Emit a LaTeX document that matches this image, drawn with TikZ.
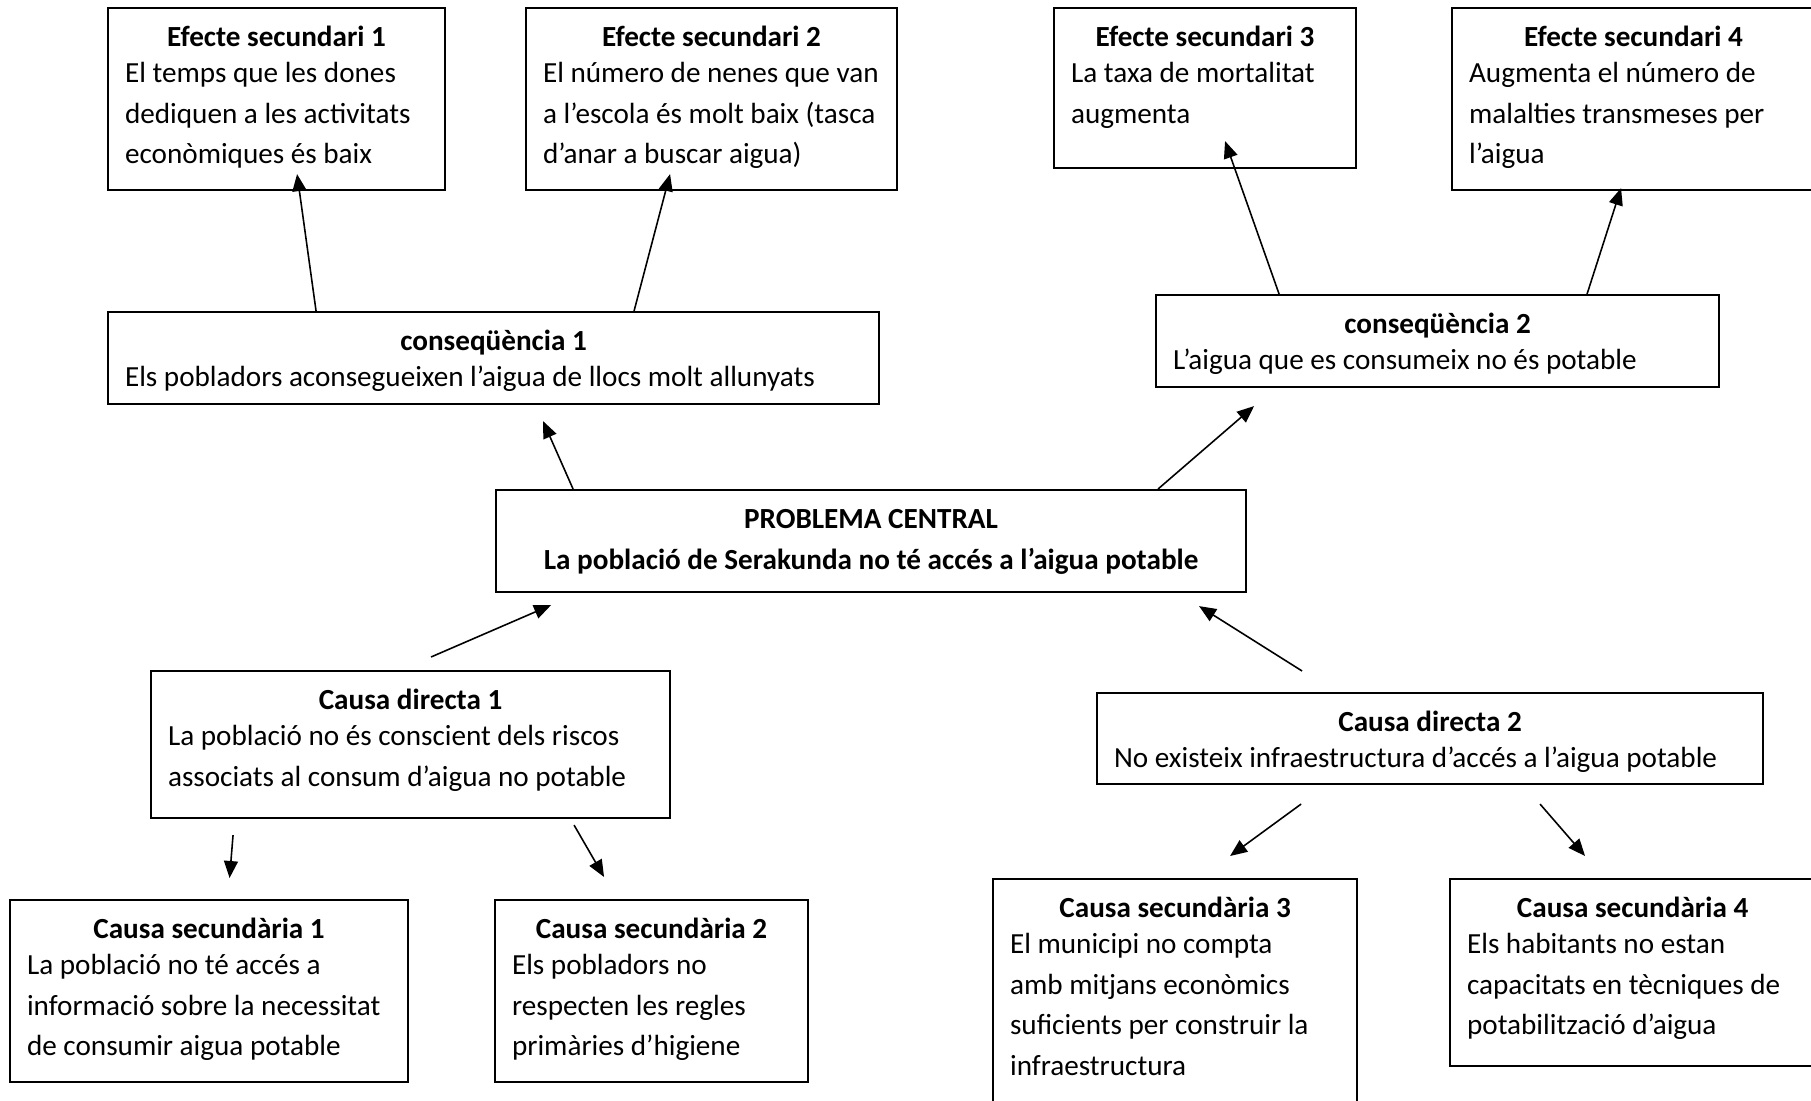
\documentclass[tikz,border=0pt]{standalone}
\usepackage{fontspec}
\setmainfont{Carlito}
\usetikzlibrary{arrows.meta}
\newcommand{\titol}[1]{{\centering\bfseries #1\par}\vspace{-0.047cm}}

\begin{document}
\begin{tikzpicture}[
    caixa/.style={draw, line width=0.6pt, anchor=north west, inner xsep=0.17cm, inner ysep=0pt,
      text height=0.385cm, align=flush left, font=\fontsize{8.3pt}{11.58pt}\selectfont},
    fletxa/.style={-{Triangle[length=0.17cm,width=0.14cm]}, line width=0.45pt}]
      \useasboundingbox (0,0) rectangle (18.11,11);
      % Efectes secundaris
      \node[caixa, text width=3.03cm, text depth=1.435cm] (e1) at (1.07,10.93) {\titol{Efecte secundari 1}El temps que les dones\\dediquen a les activitats\\econòmiques és baix};
      \node[caixa, text width=3.37cm, text depth=1.435cm] (e2) at (5.25,10.93) {\titol{Efecte secundari 2}El número de nenes que van\\a l’escola és molt baix (tasca\\d’anar a buscar aigua)};
      \node[caixa, text width=2.68cm, text depth=1.215cm] (e3) at (10.53,10.93) {\titol{Efecte secundari 3}La taxa de mortalitat\\augmenta};
      \node[caixa, text width=3.29cm, text depth=1.435cm] (e4) at (14.51,10.93) {\titol{Efecte secundari 4}Augmenta el número de\\malalties transmeses per\\l’aigua};
      % Conseqüències
      \node[caixa, text width=7.37cm, text depth=0.535cm] (c1) at (1.07,7.89) {\titol{conseqüència 1}Els pobladors aconsegueixen l’aigua de llocs molt allunyats};
      \node[caixa, text width=5.29cm, text depth=0.535cm] (c2) at (11.55,8.06) {\titol{conseqüència 2}L’aigua que es consumeix no és potable};
      % Problema central
      \node[caixa, align=flush center, text width=7.16cm, text depth=0.635cm] (pc) at (4.95,6.11) {\bfseries PROBLEMA CENTRAL\\La població de Serakunda no té accés a l’aigua potable};
      % Causes directes
      \node[caixa, text width=4.85cm, text depth=1.085cm] (cd1) at (1.50,4.30) {\titol{Causa directa 1}La població no és conscient dels riscos\\associats al consum d’aigua no potable};
      \node[caixa, text width=6.32cm, text depth=0.525cm] (cd2) at (10.96,4.08) {\titol{Causa directa 2}No existeix infraestructura d’accés a l’aigua potable};
      % Causes secundàries
      \node[caixa, text width=3.64cm, text depth=1.435cm] (cs1) at (0.09,2.01) {\titol{Causa secundària 1}La població no té accés a\\informació sobre la necessitat\\de consumir aigua potable};
      \node[caixa, text width=2.79cm, text depth=1.435cm] (cs2) at (4.94,2.01) {\titol{Causa secundària 2}Els pobladors no\\respecten les regles\\primàries d’higiene};
      \node[caixa, text width=3.30cm, text depth=2.035cm] (cs3) at (9.92,2.22) {\titol{Causa secundària 3}El municipi no compta\\amb mitjans econòmics\\suficients per construir la\\infraestructura};
      \node[caixa, text width=3.31cm, text depth=1.485cm] (cs4) at (14.49,2.22) {\titol{Causa secundària 4}Els habitants no estan\\capacitats en tècniques de\\potabilització d’aigua};
      % Fletxes
      \draw[fletxa] ([xshift=-1.775cm]c1.north) -- ([xshift=0.205cm,yshift=0.17cm]e1.south);
      \draw[fletxa] ([xshift=1.405cm]c1.north) -- ([xshift=-0.415cm,yshift=0.17cm]e2.south);
      \draw[fletxa] ([xshift=-1.585cm]c2.north) -- ([xshift=0.2cm,yshift=0.28cm]e3.south);
      \draw[fletxa] ([xshift=1.495cm]c2.north) -- ([xshift=-0.125cm,yshift=0.03cm]e4.south);
      \draw[fletxa] ([xshift=-2.98cm]pc.north) -- ([xshift=0.495cm,yshift=-0.16cm]c1.south);
      \draw[fletxa] ([xshift=2.87cm]pc.north) -- ([xshift=-1.835cm,yshift=-0.18cm]c2.south);
      \draw[fletxa] ([xshift=0.205cm,yshift=0.13cm]cd1.north) -- ([xshift=-3.2cm,yshift=-0.12cm]pc.south);
      \draw[fletxa] ([xshift=-1.28cm,yshift=0.21cm]cd2.north) -- ([xshift=3.28cm,yshift=-0.13cm]pc.south);
      \draw[fletxa] ([xshift=-1.775cm,yshift=-0.16cm]cd1.south) -- ([xshift=0.205cm,yshift=0.21cm]cs1.north);
      \draw[fletxa] ([xshift=1.635cm,yshift=-0.06cm]cd1.south) -- ([xshift=-0.475cm,yshift=0.22cm]cs2.north);
      \draw[fletxa] ([xshift=-1.29cm,yshift=-0.19cm]cd2.south) -- ([xshift=0.55cm,yshift=0.22cm]cs3.north);
      \draw[fletxa] ([xshift=1.10cm,yshift=-0.19cm]cd2.south) -- ([xshift=-0.475cm,yshift=0.22cm]cs4.north);
\end{tikzpicture}
\end{document}
